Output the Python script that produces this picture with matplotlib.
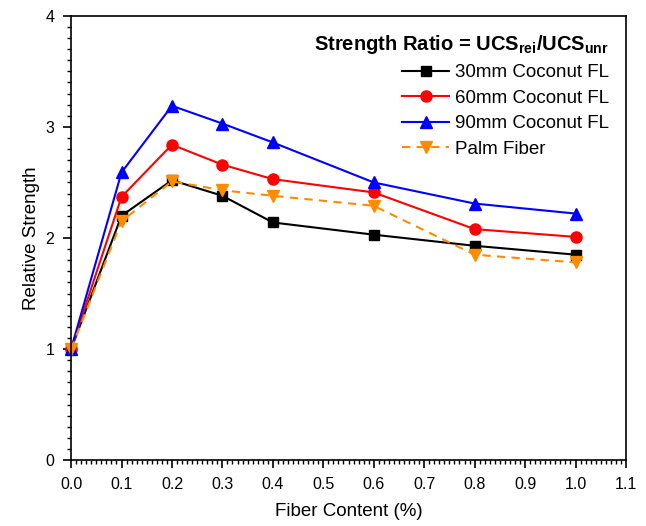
import matplotlib

matplotlib.use("agg")
import matplotlib.pyplot as plt
from matplotlib.ticker import MultipleLocator

plt.rcParams["font.family"] = ["Liberation Sans", "DejaVu Sans"]
plt.rcParams["mathtext.fontset"] = "custom"
plt.rcParams["mathtext.rm"] = "Liberation Sans:bold"

# fiber content (%)
fiber = [0.0, 0.1, 0.2, 0.3, 0.4, 0.6, 0.8, 1.0]

# relative strength (UCS_rei / UCS_unr)
coco_30 = [1.0, 2.20, 2.52, 2.38, 2.14, 2.03, 1.93, 1.85]
coco_60 = [1.0, 2.37, 2.84, 2.66, 2.53, 2.41, 2.08, 2.01]
coco_90 = [1.0, 2.59, 3.19, 3.03, 2.86, 2.50, 2.31, 2.22]
palm = [1.0, 2.15, 2.51, 2.43, 2.38, 2.29, 1.85, 1.78]

fig = plt.figure(figsize=(6.46, 5.26), dpi=100)
ax = fig.add_axes([0.110, 0.125, 0.859, 0.845])

ax.plot(fiber, coco_30, color="black", marker="s", markersize=7, lw=1.5,
        label="30mm Coconut FL", clip_on=False)
ax.plot(fiber, coco_60, color="red", marker="o", markersize=8, lw=1.5,
        label="60mm Coconut FL", clip_on=False)
ax.plot(fiber, coco_90, color="blue", marker="^", markersize=8, lw=1.5,
        label="90mm Coconut FL", clip_on=False)
ax.plot(fiber, palm, color="#FF8C00", marker="v", markersize=8, lw=1.5,
        linestyle=(0, (4, 3)), label="Palm Fiber", clip_on=False)

ax.set_xlim(0, 1.1)
ax.set_ylim(0, 4)
ax.xaxis.set_major_locator(MultipleLocator(0.1))
ax.xaxis.set_minor_locator(MultipleLocator(0.01))
ax.yaxis.set_major_locator(MultipleLocator(1))
ax.yaxis.set_minor_locator(MultipleLocator(0.1))
ax.xaxis.set_major_formatter(plt.FormatStrFormatter("%.1f"))
ax.tick_params(which="major", direction="out", length=6, width=1.2,
               labelsize=11.5, pad=6)
ax.tick_params(which="minor", direction="out", length=3, width=1.0)
for s in ax.spines.values():
    s.set_linewidth(1.2)

ax.set_xlabel("Fiber Content (%)", fontsize=13.5, labelpad=8)
ax.set_ylabel("Relative Strength", fontsize=13.5, labelpad=4)

leg = ax.legend(
    loc="upper right",
    bbox_to_anchor=(1.0, 1.0),
    frameon=False,
    fontsize=13.5,
    title=r"Strength Ratio = UCS$_{\mathregular{rei}}$/UCS$_{\mathregular{unr}}$",
    title_fontproperties={"weight": "bold", "size": 14.5},
    alignment="right",
    handlelength=2.5,
    labelspacing=0.45,
    handletextpad=0.3,
)

plt.savefig("out.png", dpi=100)
plt.close()
